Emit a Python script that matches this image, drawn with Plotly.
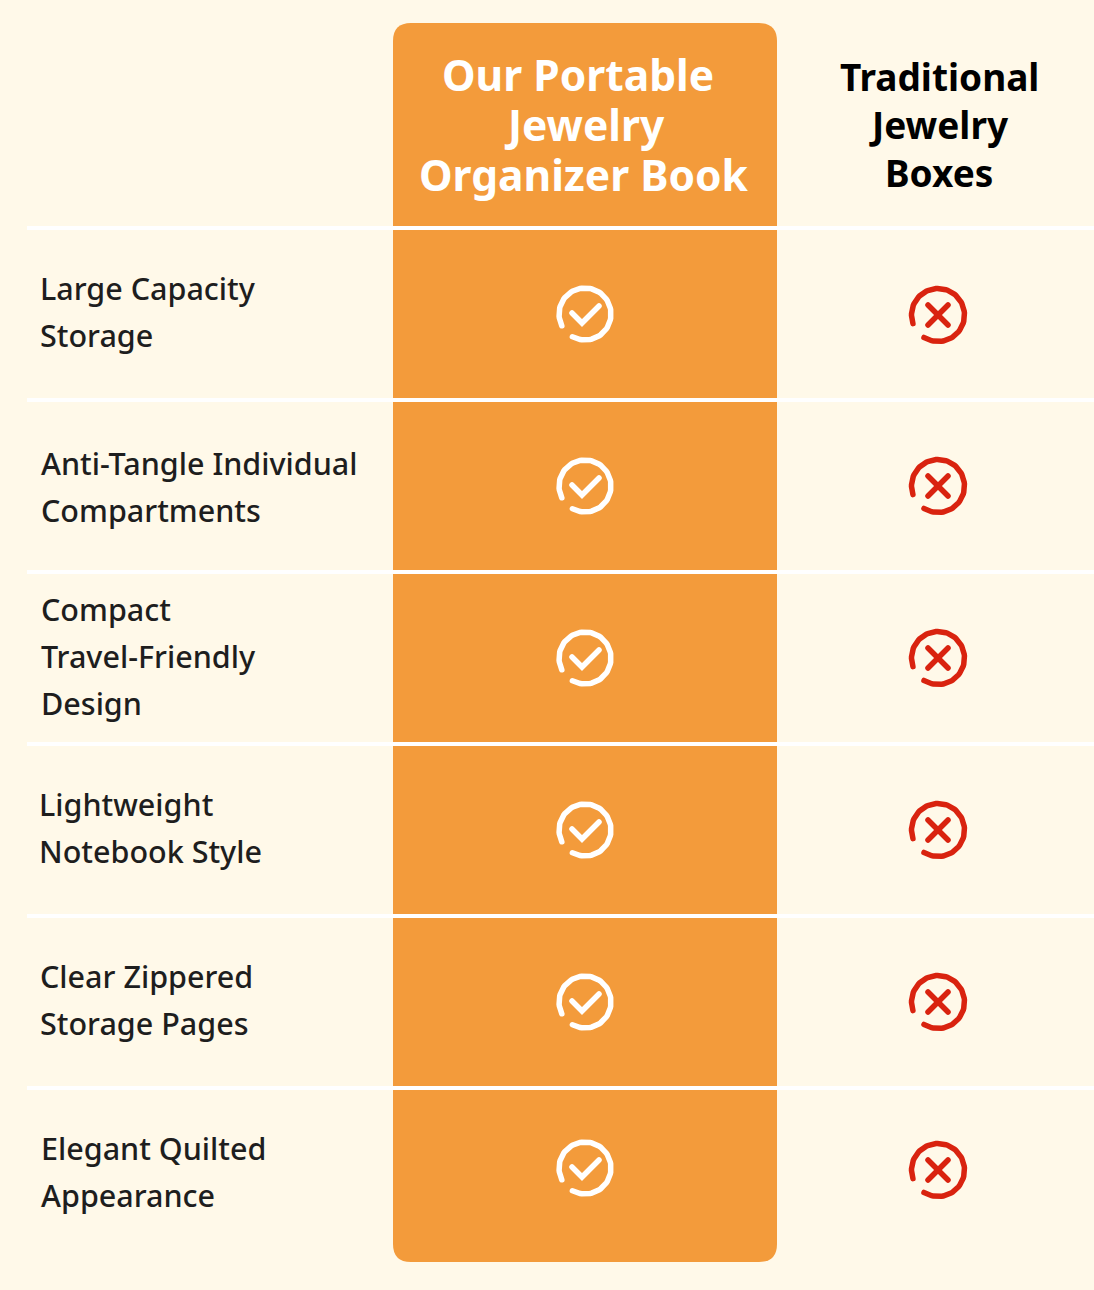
import numpy as np
import plotly.graph_objects as go

# Data
features = [
    ["Large Capacity", "Storage"],
    ["Anti-Tangle Individual", "Compartments"],
    ["Compact", "Travel-Friendly", "Design"],
    ["Lightweight", "Notebook Style"],
    ["Clear Zippered", "Storage Pages"],
    ["Elegant Quilted", "Appearance"],
]
header_ours = ["Our Portable", "Jewelry", "Organizer Book"]
header_trad = ["Traditional", "Jewelry", "Boxes"]
ours_has = [True, True, True, True, True, True]
trad_has = [False, False, False, False, False, False]

BG = "#FFF9E9"
ORANGE = "#F39B3B"
RED = "#D9230F"
INK = "#1E1E1E"
FONT = "Noto Sans"

# layout in page pixels
feature_x = [38, 39, 39, 37, 38, 39]
feature_y = [[288, 335], [463, 510], [609, 656, 703], [804, 851], [976, 1023], [1148, 1195]]
rule_y = [228, 400, 572, 744, 916, 1088]
ours_y = [314, 486, 658, 830, 1002, 1168]
trad_y = [315, 486, 658, 830, 1002, 1170]
ours_x, trad_x = 585, 938

fig = go.Figure()

# orange panel with rounded corners
x0, x1, y0, y1, r = 393, 777, 23, 1262, 18
fig.add_shape(
    type="path",
    path=f"M {x0+r} {y0} L {x1-r} {y0} Q {x1} {y0} {x1} {y0+r} L {x1} {y1-r} Q {x1} {y1} {x1-r} {y1} "
         f"L {x0+r} {y1} Q {x0} {y1} {x0} {y1-r} L {x0} {y0+r} Q {x0} {y0} {x0+r} {y0} Z",
    fillcolor=ORANGE, line_width=0, layer="below",
)
for y in rule_y:
    fig.add_shape(type="line", x0=27, x1=1094, y0=y, y1=y, line=dict(color="#FFFFFF", width=4), layer="below")


def add_line(xs, ys, color, width=5.5):
    fig.add_trace(go.Scatter(x=xs, y=ys, mode="lines", line=dict(color=color, width=width),
                             hoverinfo="skip", showlegend=False))


def add_ring(cx, cy, color, start, end, radius):
    # angles in degrees, clockwise on screen since y axis is reversed
    t = np.radians(np.linspace(start, end, 90))
    add_line(cx + radius * np.cos(t), cy + radius * np.sin(t), color)


for has, cx, cy_list in [(ours_has, ours_x, ours_y), (trad_has, trad_x, trad_y)]:
    for ok, cy in zip(has, cy_list):
        if ok:
            add_ring(cx, cy, "#FFFFFF", 153, 479, 26)
            add_line([cx - 13, cx - 3, cx + 14], [cy - 1, cy + 9, cy - 8], "#FFFFFF")
        else:
            add_ring(cx, cy, RED, 161, 482, 26.5)
            add_line([cx - 10, cx + 10], [cy - 10, cy + 10], RED)
            add_line([cx + 10, cx - 10], [cy - 10, cy + 10], RED)


def add_text(x, y, text, size, color, anchor="left", weight=500):
    fig.add_annotation(x=x, y=y, text=text, showarrow=False, xanchor=anchor, yanchor="middle",
                       font=dict(family=FONT, size=size, color=color, weight=weight))


for lines, x, ys in zip(features, feature_x, feature_y):
    for line, y in zip(lines, ys):
        add_text(x, y, line, 30.5, INK)

for line, x, y in zip(header_ours, [578, 584, 584], [74, 124, 174]):
    add_text(x, y, line, 42.5, "#FFFFFF", "center", 700)
for line, y in zip(header_trad, [76, 124, 172]):
    add_text(939, y, line, 37, "#000000", "center", 700)

fig.update_xaxes(range=[0, 1094], visible=False, fixedrange=True)
fig.update_yaxes(range=[1290, 0], visible=False, fixedrange=True)
fig.update_layout(width=1094, height=1290, margin=dict(l=0, r=0, t=0, b=0),
                  paper_bgcolor=BG, plot_bgcolor=BG, showlegend=False)

fig.write_html("out.html", config={"displayModeBar": False},
               post_script="document.body.style.margin='0';"
                           "var s=document.createElement('style');"
                           "s.textContent='.scatterlayer .js-line{stroke-linecap:round}';"
                           "document.head.appendChild(s);")
